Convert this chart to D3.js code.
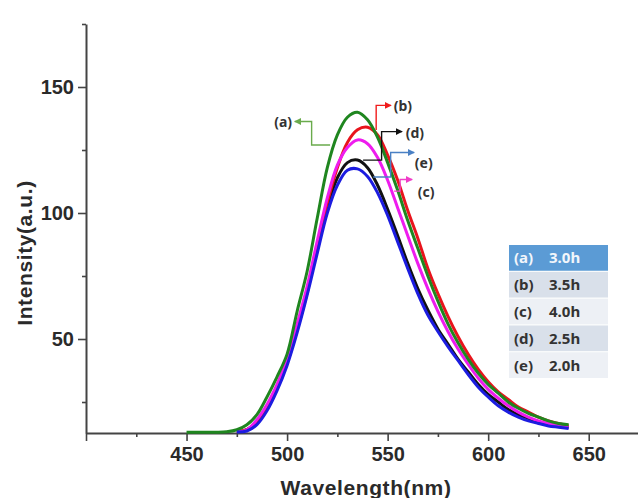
<!DOCTYPE html>
<html>
<head>
<meta charset="utf-8">
<script src="https://cdn.jsdelivr.net/npm/d3@7"></script>
<style>
  body { margin: 0; background: #fff; }
  svg { display: block; }
</style>
</head>
<body>
<div id="container"></div>
<script>
let w = 638;
let h = 498;

// data
let wavelengths = [450,455,460,465,470,475,480,485,490,495,500,505,510,515,520,525,530,535,540,545,
                   550,555,560,565,570,575,580,585,590,595,600,605,610,615,620,625,630,635,640];

let seriesA = [13,13,13,13,13.2,14,16,20,27,35,44,61,77,98,118,131,138,140,137,130,
               120,109,97,86,75,65,56,48.5,42,36.5,32,28.5,25,22.5,20.5,19,17.5,16.5,16];
let seriesB = [null,null,null,null,null,13.3,14,17,23,31,41,54,69,86,104,118,128,133,134,131,
               123,113,101,90,78,68,59,51,44,38,33,29,26,23,21,19,17.5,16.5,15.5];
let seriesC = [null,null,null,null,null,13.3,14,18,24,32,42,56,71,89,106,119,126,129,127.5,122,
               113,102,91,80,70,61,53,46,40,34.5,30,26.5,23.5,21,19,17.5,16.5,15.5,15];
let seriesD = [null,null,null,null,null,13.2,14,17,22.5,30.5,40.5,53.5,68.5,86,102,114,120,121,118,111,
               101.5,91,80,70,61.5,54,48,42,37,32,28,25,22,20,18.5,17,16,15.5,15];
let seriesE = [null,null,null,null,null,13.1,13.5,16,21.5,29.5,39.5,52.5,67.5,84,100,111,117,117.5,114.5,108,
               99,88.5,78,68,59.5,53,47,41.5,36,31,27,23.5,21,19,17.5,16.5,15.5,15,14.5];

let seriesKeys = ["(a)","(b)","(c)","(d)","(e)"];
let legendTimes = ["3.0h","3.5h","4.0h","2.5h","2.0h"];

let xMajorTicks = [400,450,500,550,600,650];
let xMinorTicks = [425,475,525,575,625];
let yMajorTicks = [50,100,150];
let yMinorTicks = [25,75,125,175];

// annotation leader lines, in data units [wavelength, intensity]
let leaderA = [[521.4,127],[512.2,127],[512.2,136.3],[503.8,136.3]];
let leaderB = [[544.3,132.9],[544.3,142.7],[551.7,142.7]];
let leaderC = [[553.2,108.7],[556.2,108.7],[556.2,113.3],[562.2,113.3]];
let leaderD = [[537.8,121],[547,121],[547,132.3],[557.2,132.3]];
let leaderE = [[542.8,114.3],[551.5,114.3],[551.5,124],[563.2,124]];
let labelPos = [[502.5,136.2],[553,142.4],[565,108.3],[559,131.8],[563.5,119.8]];

let viz = d3.select("#container")
  .append("svg")
    .attr("width", w)
    .attr("height", h)
;

let xScale = d3.scaleLinear().domain([400,675]).range([86,639]);
let yScale = d3.scaleLinear().domain([12.7,175]).range([433,24]);

let axisFont = "'Liberation Sans', Arial, sans-serif";
let tagFont = "'Noto Sans', 'Open Sans', sans-serif";

//x axis
let xAxisGroup = viz.append("g").attr("class","xaxis")
  .attr("transform","translate(0,433)")
  .call(d3.axisBottom(xScale).tickValues(xMajorTicks).tickSize(8).tickSizeOuter(0).tickPadding(6)
        .tickFormat(d => d === 400 ? "" : d));
viz.append("g").attr("class","xminor")
  .attr("transform","translate(0,433)")
  .call(d3.axisBottom(xScale).tickValues(xMinorTicks).tickSize(4).tickFormat(""))
  .select(".domain").remove();

//y axis
let yAxisGroup = viz.append("g").attr("class","yaxis")
  .attr("transform","translate(86,0)")
  .call(d3.axisLeft(yScale).tickValues(yMajorTicks).tickSize(8).tickSizeOuter(0).tickPadding(4));
viz.append("g").attr("class","yminor")
  .attr("transform","translate(86,0)")
  .call(d3.axisLeft(yScale).tickValues(yMinorTicks).tickSize(4).tickFormat(""))
  .select(".domain").remove();

viz.selectAll(".xaxis .domain, .yaxis .domain")
  .attr("stroke","#444").attr("stroke-width",2);
viz.selectAll(".tick line").attr("stroke","#444").attr("stroke-width",1.6);
viz.selectAll(".tick text")
  .attr("fill","#2a2a2a")
  .style("font-family",axisFont)
  .style("font-weight","bold")
  .style("font-size","20px");

viz.append("text")
  .attr("x",366).attr("y",495)
  .attr("text-anchor","middle")
  .attr("fill","#2a2a2a")
  .style("font-family",axisFont).style("font-weight","bold").style("font-size","21px")
  .style("letter-spacing","0.6px")
  .text("Wavelength(nm)");

viz.append("text")
  .attr("transform","translate(32,253) rotate(-90)")
  .attr("text-anchor","middle")
  .attr("fill","#2a2a2a")
  .style("font-family",axisFont).style("font-weight","bold").style("font-size","21px")
  .style("letter-spacing","0.6px")
  .text("Intensity(a.u.)");

//curves
let series = [
  {key:"(d)", values:seriesD, color:"#111111"},
  {key:"(b)", values:seriesB, color:"#e8141c"},
  {key:"(c)", values:seriesC, color:"#ee1cee"},
  {key:"(a)", values:seriesA, color:"#1f861f"},
  {key:"(e)", values:seriesE, color:"#1c1ce0"}
];

let line = d3.line()
  .defined(d => d !== null)
  .x((d,i) => xScale(wavelengths[i]))
  .y(d => yScale(d))
  .curve(d3.curveCatmullRom);

let graphGroup = viz.append("g").classed("graphGroup", true);
graphGroup.selectAll(".curve").data(series).enter()
  .append("path")
    .attr("class","curve")
    .attr("d", d => line(d.values))
    .attr("fill","none")
    .attr("stroke", d => d.color)
    .attr("stroke-width",3)
    .attr("stroke-linejoin","round");

//leaders with arrows
let leaders = [
  {pts:leaderA, color:"#6aab4c"},
  {pts:leaderB, color:"#f01c1c"},
  {pts:leaderC, color:"#f03cc8"},
  {pts:leaderD, color:"#111111"},
  {pts:leaderE, color:"#4a80c4"}
];

let defs = viz.append("defs");
leaders.forEach((l,i) => {
  defs.append("marker")
    .attr("id","arr"+i)
    .attr("viewBox","0 0 10 10")
    .attr("refX",9).attr("refY",5)
    .attr("markerWidth",7).attr("markerHeight",7)
    .attr("markerUnits","userSpaceOnUse")
    .attr("orient","auto")
    .append("path").attr("d","M0,0L10,5L0,10z").attr("fill",l.color);
});

let leaderLine = d3.line().x(d => xScale(d[0])).y(d => yScale(d[1]));
viz.selectAll(".leader").data(leaders).enter()
  .append("path")
    .attr("class","leader")
    .attr("d", d => leaderLine(d.pts))
    .attr("fill","none")
    .attr("stroke", d => d.color)
    .attr("stroke-width",1.4)
    .attr("marker-end",(d,i) => "url(#arr"+i+")");

viz.selectAll(".tag").data(seriesKeys).enter()
  .append("text")
    .attr("class","tag")
    .attr("x",(d,i) => xScale(labelPos[i][0]))
    .attr("y",(d,i) => yScale(labelPos[i][1]))
    .attr("dy","0.35em")
    .attr("text-anchor",(d,i) => i === 0 ? "end" : "start")
    .attr("fill","#333")
    .style("font-family",tagFont).style("font-weight","bold").style("font-size","14px")
    .text(d => d);

//legend table
let legendRows = viz.append("g").attr("class","legend");
let rowFill = ["#5b9bd5","#d9e0ea","#edf0f5","#d9e0ea","#edf0f5"];
let rowY = d3.scaleBand().domain(seriesKeys).range([245,378]).paddingInner(0.04);

let rows = legendRows.selectAll(".row").data(seriesKeys).enter()
  .append("g").attr("class","row")
  .attr("transform", d => "translate(0,"+rowY(d)+")");
rows.append("rect")
  .attr("x",509).attr("width",99)
  .attr("height",rowY.bandwidth())
  .attr("fill",(d,i) => rowFill[i]);
rows.append("text")
  .attr("x",514).attr("y",rowY.bandwidth()/2).attr("dy","0.36em")
  .attr("fill",(d,i) => i === 0 ? "#f2f6fb" : "#333")
  .style("font-family",tagFont).style("font-weight","bold").style("font-size","15px")
  .text(d => d);
rows.append("text")
  .attr("x",549).attr("y",rowY.bandwidth()/2).attr("dy","0.36em")
  .attr("fill",(d,i) => i === 0 ? "#f2f6fb" : "#333")
  .style("font-family",tagFont).style("font-weight","bold").style("font-size","15px")
  .text((d,i) => legendTimes[i]);
</script>
</body>
</html>
